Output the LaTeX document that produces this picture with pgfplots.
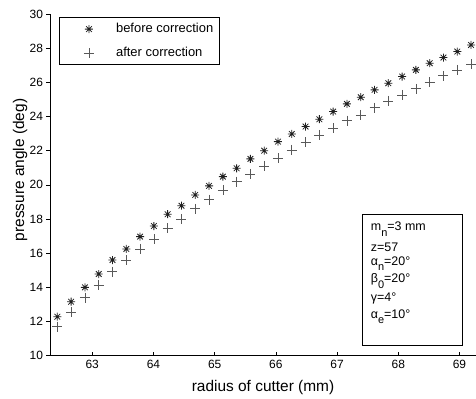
\documentclass[border=0pt]{standalone}
\usepackage{fontspec}
\setmainfont{Liberation Sans}
\usepackage{pgfplots}
\usepackage{pgfplotstable}
\pgfplotsset{compat=1.18}
\definecolor{plusgray}{gray}{0.35}
\definecolor{stargray}{gray}{0.12}
\pgfdeclareplotmark{mstar}{%
  \pgfpathmoveto{\pgfqpoint{-\pgfplotmarksize}{0pt}}\pgfpathlineto{\pgfqpoint{\pgfplotmarksize}{0pt}}%
  \pgfpathmoveto{\pgfqpoint{0pt}{-\pgfplotmarksize}}\pgfpathlineto{\pgfqpoint{0pt}{\pgfplotmarksize}}%
  \pgfpathmoveto{\pgfqpoint{-0.707\pgfplotmarksize}{-0.707\pgfplotmarksize}}\pgfpathlineto{\pgfqpoint{0.707\pgfplotmarksize}{0.707\pgfplotmarksize}}%
  \pgfpathmoveto{\pgfqpoint{-0.707\pgfplotmarksize}{0.707\pgfplotmarksize}}\pgfpathlineto{\pgfqpoint{0.707\pgfplotmarksize}{-0.707\pgfplotmarksize}}%
  \pgfusepathqstroke}
\pgfplotstableread{
x y
62.430 12.28
62.655 13.16
62.881 14.00
63.106 14.78
63.331 15.60
63.557 16.25
63.782 16.97
64.007 17.59
64.232 18.28
64.458 18.78
64.683 19.41
64.908 19.94
65.134 20.48
65.359 20.97
65.584 21.52
65.810 22.00
66.035 22.53
66.260 22.98
66.485 23.41
66.711 23.84
66.936 24.29
67.161 24.74
67.387 25.13
67.612 25.56
67.837 25.95
68.063 26.34
68.288 26.73
68.513 27.12
68.738 27.45
68.964 27.80
69.189 28.19
}\before
\pgfplotstableread{
x y
62.430 11.70
62.655 12.54
62.881 13.40
63.106 14.14
63.331 14.92
63.557 15.60
63.782 16.25
64.007 16.83
64.232 17.46
64.458 18.00
64.683 18.60
64.908 19.14
65.134 19.70
65.359 20.19
65.584 20.64
65.810 21.11
66.035 21.56
66.260 22.04
66.485 22.49
66.711 22.92
66.936 23.31
67.161 23.76
67.387 24.09
67.612 24.52
67.837 24.91
68.063 25.26
68.288 25.62
68.513 26.01
68.738 26.38
68.964 26.73
69.189 27.06
}\after
\newcommand{\sub}[1]{\raisebox{-5.5bp}{\fontsize{11}{12}\selectfont #1}}
\pgfplotsset{mylegimg/.style={legend image code/.code={\path (0bp,0bp) (38bp,0bp); \draw[##1] plot coordinates {(23.3bp,0bp)};}}}
\begin{document}
\begin{tikzpicture}
\begin{axis}[
  scale only axis, width=426bp, height=341.7bp,
  xmin=62.31, xmax=69.27, ymin=10, ymax=30,
  axis x line*=bottom, axis y line*=left,
  axis line style={-, line width=0.6bp},
  xtick={63,64,...,69}, ytick={10,12,...,30},
  xtick align=inside, ytick align=outside,
  major tick length=3.5bp,
  tick style={black, line width=0.6bp},
  /pgf/number format/assume math mode=true,
  tick label style={font=\fontsize{12}{14}\selectfont},
  xticklabel style={yshift=-1bp},
  xlabel={radius of cutter (mm)}, ylabel={pressure angle (deg)},
  label style={font=\fontsize{15.5}{17}\selectfont},
  xlabel style={at={(axis description cs:0.5,-0.1054)}, anchor=base},
  ylabel style={at={(axis description cs:-0.061,0.5435)}, anchor=base},
  legend style={at={(axis description cs:0.0211,0.9906)}, anchor=north west,
    draw=black, line width=0.6bp, font=\fontsize{13}{15}\selectfont,
    inner xsep=6bp, inner ysep=5.6bp, row sep=12bp,
    nodes={inner xsep=0bp, inner ysep=0bp, text height=9bp, text depth=3bp},
    /tikz/every odd column/.append style={column sep=12bp}},
  legend cell align=left,
  clip=false,
]
\coordinate (sw) at (rel axis cs:0,0);
\addplot[only marks, mark=mstar, mark size=4bp, draw=stargray, line width=0.8bp, mylegimg] table[x=x,y=y] {\before};
\addlegendentry{before correction}
\addplot[only marks, mark=+, mark size=5bp, draw=plusgray, line width=0.7bp, mylegimg] table[x=x,y=y] {\after};
\addlegendentry{after correction}
\draw[line width=0.6bp] (axis description cs:0.733,0.0293) rectangle (axis description cs:0.969,0.4147);
\begin{scope}[every node/.style={anchor=base west, inner sep=0pt, font=\fontsize{12.5}{15}\selectfont}]
\node at (axis description cs:0.7528,0.3658) {m\sub{n}=3 mm};
\node at (axis description cs:0.7528,0.3064) {z=57};
\node at (axis description cs:0.7528,0.2640) {α\sub{n}=20°};
\node at (axis description cs:0.7528,0.2128) {β\sub{0}=20°};
\node at (axis description cs:0.7528,0.1580) {γ=4°};
\node at (axis description cs:0.7528,0.1103) {α\sub{e}=10°};
\end{scope}
\end{axis}
\pgfresetboundingbox
\path (sw) ++(-50bp,-43.3bp) rectangle ++(476bp,399bp);
\end{tikzpicture}
\end{document}
